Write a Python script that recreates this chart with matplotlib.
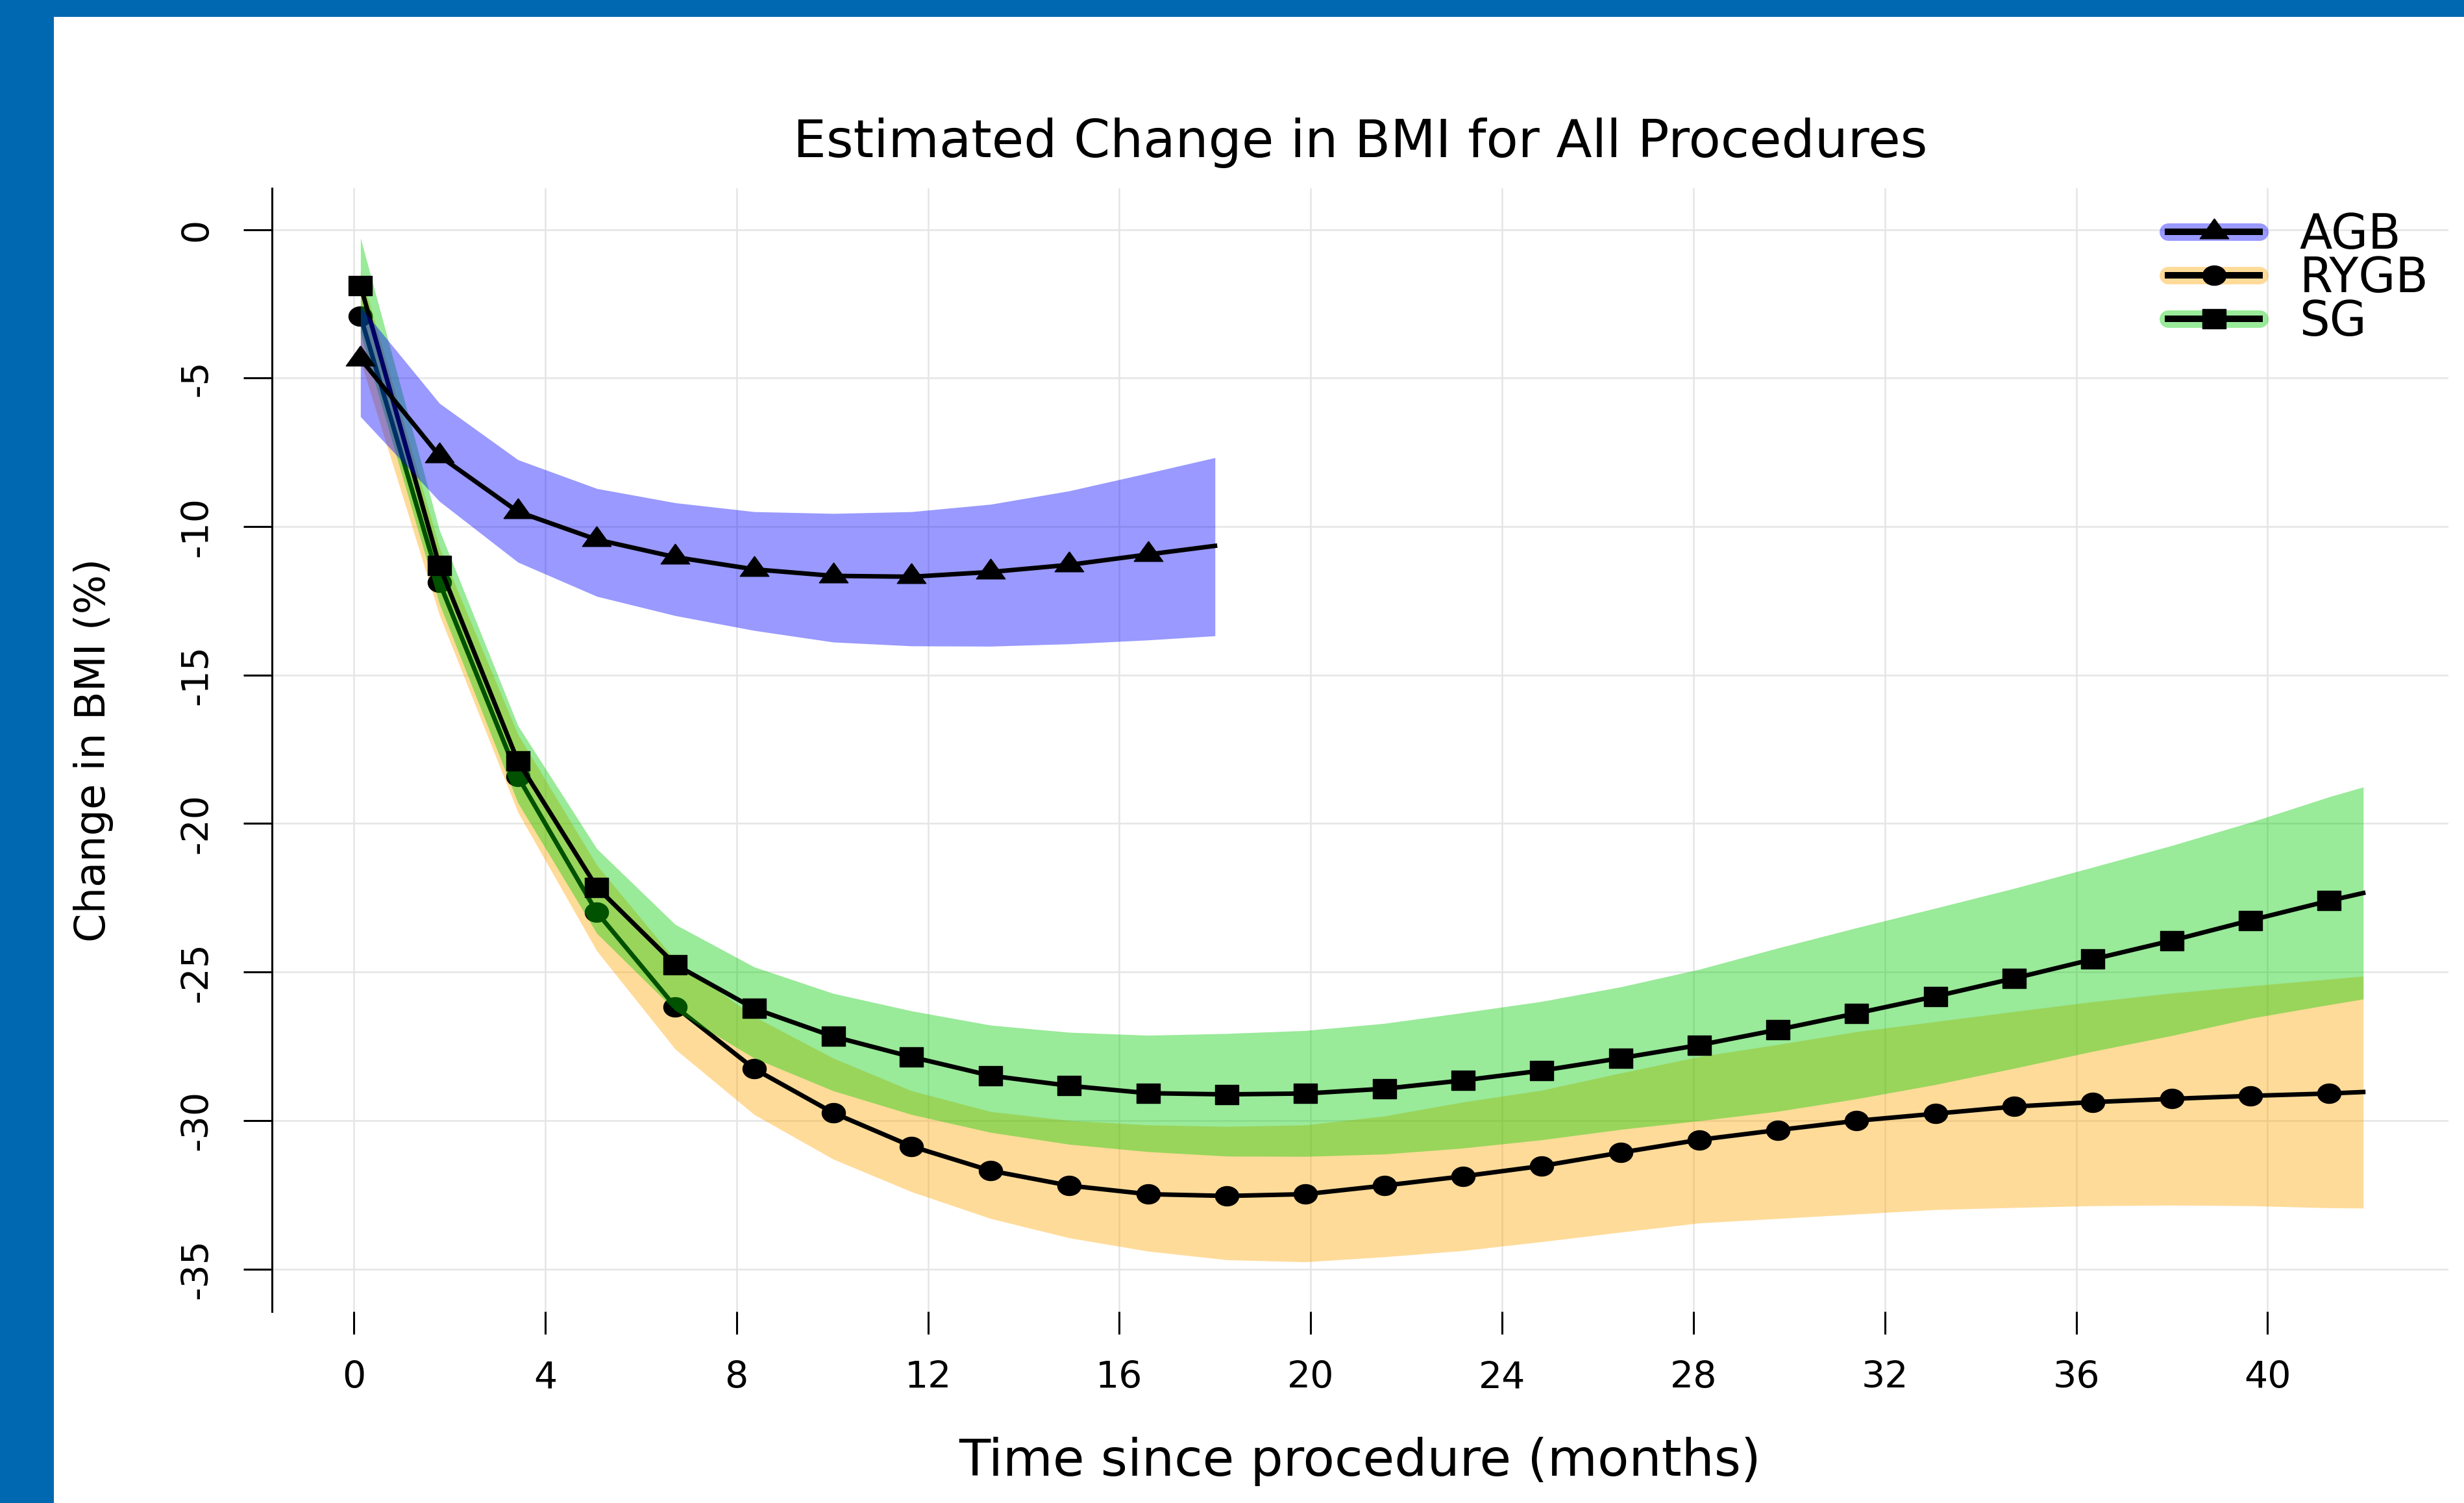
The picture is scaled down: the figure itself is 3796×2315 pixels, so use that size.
import matplotlib
matplotlib.use("Agg")
import matplotlib.pyplot as plt
from matplotlib.patches import Rectangle
from matplotlib.lines import Line2D
from matplotlib.legend_handler import HandlerTuple
import numpy as np

plt.rcParams['font.family'] = ['DejaVu Sans']
plt.rcParams['axes.unicode_minus'] = False

# ---------------- data ----------------
title = "Estimated Change in BMI for All Procedures"
xlabel = "Time since procedure (months)"
ylabel = "Change in BMI (%)"
groups = ["AGB", "RYGB", "SG"]

months = [0.14, 1.79, 3.43, 5.08, 6.72, 8.37, 10.02, 11.66, 13.31, 14.95,
          16.60, 18.25, 19.89, 21.54, 23.18, 24.83, 26.48, 28.12, 29.77, 31.41,
          33.06, 34.71, 36.35, 38.00, 39.64, 41.29, 42.00]
agb_months = [0.14, 1.79, 3.43, 5.08, 6.72, 8.37, 10.02, 11.66, 13.31, 14.95,
              16.60, 18.00]

agb_est = [-4.35, -7.62, -9.50, -10.44, -11.03, -11.44, -11.66, -11.69, -11.53,
           -11.29, -10.94, -10.65]
agb_upper = [-2.6, -5.85, -7.75, -8.72, -9.2, -9.5, -9.56, -9.5, -9.25, -8.8,
             -8.2, -7.68]
agb_lower = [-6.3, -9.15, -11.2, -12.35, -13.0, -13.5, -13.89, -14.02, -14.03,
             -13.95, -13.82, -13.68]

rygb_est = [-2.91, -11.88, -18.42, -22.99, -26.17, -28.26, -29.74, -30.87, -31.69,
            -32.19, -32.48, -32.54, -32.48, -32.19, -31.88, -31.53, -31.08, -30.65,
            -30.32, -30.01, -29.77, -29.53, -29.38, -29.27, -29.17, -29.09, -29.04]
rygb_upper = [-1.41, -10.7, -17.0, -21.4, -24.6, -26.5, -27.9, -29.0, -29.7,
              -30.0, -30.15, -30.2, -30.15, -29.85, -29.38, -28.98, -28.4, -27.85,
              -27.44, -27.01, -26.67, -26.33, -26.0, -25.71, -25.47, -25.24, -25.14]
rygb_lower = [-4.41, -12.98, -19.62, -24.29, -27.6, -29.8, -31.3, -32.4, -33.3,
              -33.95, -34.4, -34.69, -34.76, -34.59, -34.38, -34.08, -33.76, -33.45,
              -33.3, -33.15, -33.0, -32.93, -32.87, -32.85, -32.87, -32.94, -32.95]

sg_est = [-1.88, -11.32, -17.9, -22.15, -24.75, -26.23, -27.17, -27.86, -28.49,
          -28.83, -29.08, -29.12, -29.09, -28.93, -28.65, -28.32, -27.9, -27.46,
          -26.94, -26.39, -25.82, -25.21, -24.57, -23.94, -23.26, -22.6, -22.34]
sg_upper = [-0.28, -10.12, -16.7, -20.85, -23.4, -24.83, -25.72, -26.31, -26.79,
            -27.03, -27.13, -27.07, -26.97, -26.73, -26.37, -25.99, -25.5, -24.91,
            -24.19, -23.51, -22.85, -22.18, -21.47, -20.74, -19.96, -19.1, -18.77]
sg_lower = [-3.48, -12.6, -19.3, -23.7, -26.3, -27.9, -29.0, -29.8, -30.4,
            -30.8, -31.05, -31.2, -31.21, -31.13, -30.93, -30.65, -30.3, -30.01,
            -29.69, -29.27, -28.79, -28.24, -27.67, -27.14, -26.56, -26.1, -25.91]

x_ticks = [0, 4, 8, 12, 16, 20, 24, 28, 32, 36, 40]
y_ticks = [0, -5, -10, -15, -20, -25, -30, -35]

# ---------------- style ----------------
W, H = 3796, 2315
DPI = 100
fig = plt.figure(figsize=(W / DPI, H / DPI), dpi=DPI, facecolor='white')

# blue frame of the slide
frame_blue = '#0067B1'
fig.add_artist(Rectangle((0, 1 - 26 / H), 1, 26 / H, transform=fig.transFigure,
                         color=frame_blue, lw=0, zorder=0))
fig.add_artist(Rectangle((0, 0), 83 / W, 1, transform=fig.transFigure,
                         color=frame_blue, lw=0, zorder=0))

L, R, T, B = 419, 3772, 290, 2020
ax = fig.add_axes([L / W, 1 - B / H, (R - L) / W, (B - T) / H])
ax.set_xlim(-1.71, 43.78)
ax.set_ylim(-36.43, 1.39)

# marker shapes (slightly wider than tall, as in the reference)
tri = [(0, 1.0), (-1.08, -0.5), (1.08, -0.5), (0, 1.0)]
sq = [(-1.25, -1), (1.25, -1), (1.25, 1), (-1.25, 1), (-1.25, -1)]
tt = np.linspace(0, 2 * np.pi, 41)
circ = list(zip(1.2 * np.cos(tt), np.sin(tt)))

fills = {
    "AGB": ((0.0, 0.0, 1.0), 0.4),
    "RYGB": ((1.0, 0.647, 0.0), 0.4),
    "SG": ((0.0, 0.8, 0.0), 0.4),
}
markers = {"AGB": (tri, 32), "RYGB": (circ, 26), "SG": (sq, 26.5)}
series = {
    "AGB": (agb_months, agb_est, agb_lower, agb_upper),
    "RYGB": (months, rygb_est, rygb_lower, rygb_upper),
    "SG": (months, sg_est, sg_lower, sg_upper),
}

LW = 5.0
z = 2
for g in ["RYGB", "SG", "AGB"]:
    xs, est, lo, up = series[g]
    col, a = fills[g]
    ax.fill_between(xs, lo, up, color=col, alpha=a, lw=0, zorder=z)
    mk, ms = markers[g]
    ax.plot(xs, est, color='black', lw=LW, marker=mk, markersize=ms,
            markevery=list(range(len(xs) - 1)), zorder=z + 1)
    z += 2

# grid & axes
ax.set_axisbelow(True)
ax.grid(True, color='#E5E5E5', lw=1.8, zorder=0)
for s in ['top', 'right', 'bottom']:
    ax.spines[s].set_visible(False)
ax.spines['left'].set_linewidth(2.2)

ax.set_xticks(x_ticks)
ax.set_yticks(y_ticks)
ax.set_xticklabels([str(v) for v in x_ticks])
ax.set_yticklabels([str(v) for v in y_ticks])
ax.tick_params(axis='x', length=25, width=2.2, pad=29, labelsize=41)
ax.tick_params(axis='y', length=31.7, width=2.2, pad=31.7, labelsize=41)
for lbl in ax.get_yticklabels():
    lbl.set_rotation(90)
    lbl.set_va('center')

ax.set_title(title, fontsize=58, y=(B - 242) / (B - T), va='baseline', pad=0)
ax.set_xlabel(xlabel, fontsize=57)
ax.xaxis.label.set_va('baseline')
ax.xaxis.set_label_coords(0.5, (B - 2273) / (B - T))
ax.set_ylabel(ylabel, fontsize=46)
ax.yaxis.label.set_va('baseline')
ax.yaxis.set_label_coords((162 - L) / (R - L), 0.5)

# legend
handles = []
for g in groups:
    col, a = fills[g]
    band = Line2D([0], [0], color=(*col, a), lw=19.4, solid_capstyle='round')
    mk, ms = markers[g]
    line = Line2D([0], [0], color='black', lw=7.2, marker=mk, markersize=ms)
    handles.append((band, line))
ax.legend(handles, groups, handler_map={tuple: HandlerTuple(ndivide=1, pad=0)},
          loc='upper left', bbox_to_anchor=(3340 / W, 1 - 326 / H),
          bbox_transform=fig.transFigure, frameon=False, fontsize=53,
          handlelength=1.92, handletextpad=0.83, labelspacing=-0.08,
          borderpad=0, borderaxespad=0, numpoints=1)

fig.savefig("out.png", dpi=DPI, facecolor='white')
